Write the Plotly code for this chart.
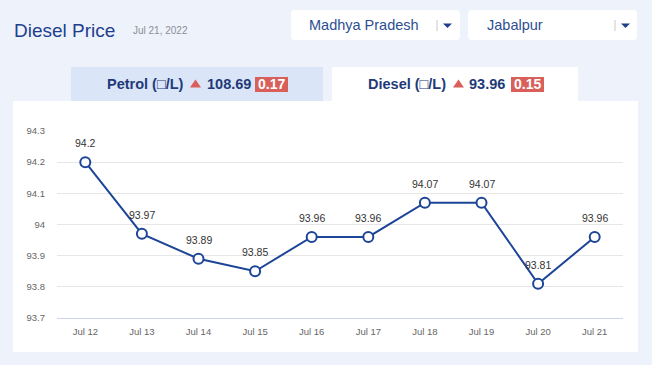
import plotly.graph_objects as go

# ---- data ----
dates = ["Jul 12", "Jul 13", "Jul 14", "Jul 15", "Jul 16", "Jul 17", "Jul 18", "Jul 19", "Jul 20", "Jul 21"]
diesel_prices = [94.2, 93.97, 93.89, 93.85, 93.96, 93.96, 94.07, 94.07, 93.81, 93.96]
y_ticks = [93.7, 93.8, 93.9, 94.0, 94.1, 94.2, 94.3]
y_tick_labels = ["93.7", "93.8", "93.9", "94", "94.1", "94.2", "94.3"]

title_text = "Diesel Price"
date_text = "Jul 21, 2022"
state_text = "Madhya Pradesh"
city_text = "Jabalpur"
petrol_price, petrol_change = "108.69", "0.17"
diesel_price, diesel_change = "93.96", "0.15"

W, H = 652, 365
L, R, T, B = 57, 623, 131, 318  # plot area in pixels

def px(x):
    return (x - L) / (R - L)

def py(y):
    return (B - y) / (B - T)

def P(x, y):
    return f"{px(x):.5f},{py(y):.5f}"

def rrect(x0, y0, x1, y1, r, fill):
    path = (
        f"M {P(x0 + r, y0)} L {P(x1 - r, y0)} Q {P(x1, y0)} {P(x1, y0 + r)} "
        f"L {P(x1, y1 - r)} Q {P(x1, y1)} {P(x1 - r, y1)} "
        f"L {P(x0 + r, y1)} Q {P(x0, y1)} {P(x0, y1 - r)} "
        f"L {P(x0, y0 + r)} Q {P(x0, y0)} {P(x0 + r, y0)} Z"
    )
    return dict(type="path", xref="paper", yref="paper", path=path,
                fillcolor=fill, line=dict(width=0), layer="below")

def tri(pts, fill):
    path = "M " + " L ".join(P(x, y) for x, y in pts) + " Z"
    return dict(type="path", xref="paper", yref="paper", path=path,
                fillcolor=fill, line=dict(width=0), layer="above")

def rect(x0, y0, x1, y1, fill):
    return dict(type="rect", xref="paper", yref="paper", x0=px(x0), x1=px(x1),
                y0=py(y1), y1=py(y0), fillcolor=fill, line=dict(width=0), layer="below")

def line(x0, y0, x1, y1, color, width=1):
    return dict(type="line", xref="paper", yref="paper", x0=px(x0), x1=px(x1),
                y0=py(y0), y1=py(y1), line=dict(color=color, width=width), layer="above")

FONT = "Liberation Sans, Arial, sans-serif"
BG = "#eef2fb"
NAVY = "#1f3f8c"
TABTXT = "#1e3a78"
RED = "#d95f5a"

fig = go.Figure()
fig.add_trace(go.Scatter(
    x=dates, y=diesel_prices, mode="lines+markers",
    line=dict(color="#1d4597", width=2),
    marker=dict(size=10, color="white", line=dict(color="#1d4597", width=2)),
    hoverinfo="x+y", showlegend=False, cliponaxis=False,
))

annotations = []
for d, v in zip(dates, diesel_prices):
    annotations.append(dict(x=d, y=v, xref="x", yref="y", text=f"{v:g}", showarrow=False,
                            yshift=19, font=dict(family=FONT, size=10.5, color="#333333")))

def ann(x, y, text, size, color, anchor="left", bold=False):
    t = f"<b>{text}</b>" if bold else text
    return dict(x=px(x), y=py(y), xref="paper", yref="paper", text=t, showarrow=False,
                xanchor=anchor, yanchor="middle", font=dict(family=FONT, size=size, color=color))

annotations += [
    ann(12, 30, title_text, 19, NAVY),
    ann(131, 30, date_text, 10, "#8a8f99"),
    ann(307, 25, state_text, 14.5, "#2d4f91"),
    ann(485, 25, city_text, 14.5, "#2d4f91"),
    # petrol tab
    ann(105, 84, "Petrol (□/L)", 14.5, TABTXT, bold=True),
    ann(205, 84, petrol_price, 14.5, TABTXT, bold=True),
    ann(271.5, 84.5, petrol_change, 14, "white", anchor="center", bold=True),
    # diesel tab
    ann(366, 84, "Diesel (□/L)", 14.5, TABTXT, bold=True),
    ann(467, 84, diesel_price, 14.5, TABTXT, bold=True),
    ann(527.5, 84.5, diesel_change, 14, "white", anchor="center", bold=True),
]

shapes = [
    rrect(291, 10, 460, 40, 4, "white"),
    rrect(468, 10, 637, 40, 4, "white"),
    line(437, 20, 437, 31, "#c8c8c8"),
    line(615, 20, 615, 31, "#c8c8c8"),
    tri([(443, 23.5), (452, 23.5), (447.5, 28)], NAVY),
    tri([(621, 23.5), (630, 23.5), (625.5, 28)], NAVY),
    rect(71, 67, 323, 101, "#dbe5f8"),
    rect(332, 67, 578, 101, "white"),
    rect(13, 101, 638, 352, "white"),
    rect(255, 77, 288, 92, RED),
    rect(511, 77, 544, 92, RED),
    tri([(190, 87.5), (201, 87.5), (195.5, 79.5)], RED),
    tri([(453, 87.5), (464, 87.5), (458.5, 79.5)], RED),
]

fig.update_layout(
    width=W, height=H,
    margin=dict(l=L, r=W - R, t=T, b=H - B, pad=0),
    paper_bgcolor=BG, plot_bgcolor="rgba(0,0,0,0)",
    shapes=shapes, annotations=annotations,
    font=dict(family=FONT),
    xaxis=dict(type="category", range=[-0.5, len(dates) - 0.5], showgrid=False,
               showline=True, linecolor="#ccd6eb", linewidth=1, ticks="",
               tickfont=dict(size=9.5, color="#666666"), ticklabelstandoff=5,
               fixedrange=True, zeroline=False),
    yaxis=dict(range=[93.7, 94.3], tickvals=y_ticks, ticktext=y_tick_labels,
               showgrid=True, gridcolor="#e6e6e6", gridwidth=1, zeroline=False,
               showline=False, ticks="", tickfont=dict(size=9.5, color="#666666"),
               ticklabelstandoff=11, fixedrange=True),
)

fig.write_html("out.html", config={"displayModeBar": False},
               post_script="document.body.style.margin='0';document.body.style.overflow='hidden';")
